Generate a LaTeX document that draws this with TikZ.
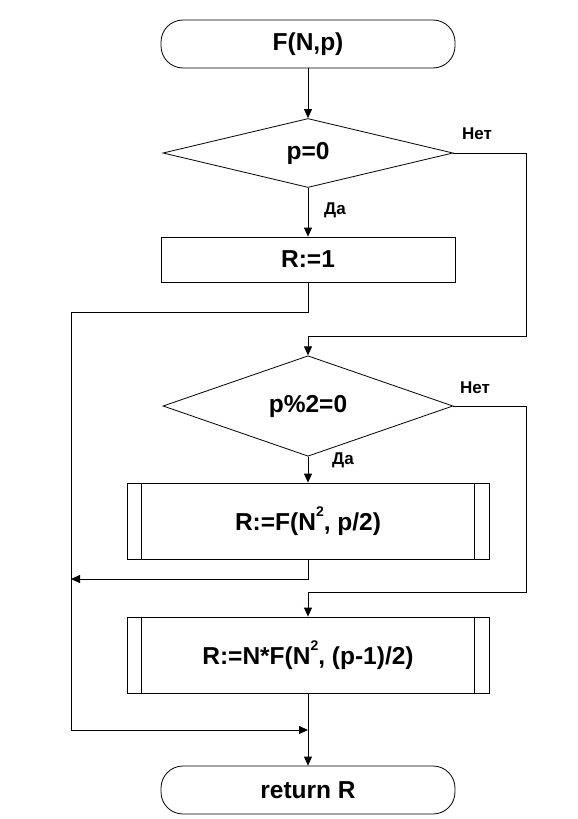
\documentclass[tikz,border=0pt]{standalone}
\usepackage{fontspec}
\setmainfont{Liberation Sans}
\usetikzlibrary{arrows.meta,shapes.geometric}
\newcommand{\supb}{\raisebox{0.55em}{\fontsize{14}{16}\selectfont 2}}
\begin{document}
\begin{tikzpicture}[x=1pt,y=-1pt,
  every node/.style={font=\fontsize{24.5}{28}\selectfont\bfseries},
  box/.style={draw,line width=0.8pt,rectangle,minimum width=294pt,minimum height=45pt,inner sep=0pt},
  term/.style={draw,line width=0.8pt,rectangle,rounded corners=22pt,minimum width=294pt,minimum height=48pt,inner sep=0pt},
  dec/.style={draw,line width=0.8pt,diamond,minimum width=290pt,minimum height=69pt,inner sep=0pt},
  sub/.style={draw,line width=0.8pt,rectangle,minimum width=362pt,minimum height=76pt,inner sep=0pt},
  lab/.style={font=\fontsize{17}{20}\selectfont\bfseries},
  line/.style={line width=0.8pt},
  arr/.style={line width=0.8pt,-{Triangle[length=9pt,width=8pt]}}]
\useasboundingbox (0,0) rectangle (578,819);
\node[term] (start) at (308,44) {F(N,p)};
\node[dec] (d1) at (308,153) {p=0};
\node[box] (b1) at (308,259.5) {R:=1};
\node[dec] (d2) at (308,406) {p\%2=0};
\node[sub] (b2) at (308,521) {R:=F(N\supb, p/2)};
\draw[line] ([xshift=15pt]b2.north west) -- ([xshift=15pt]b2.south west);
\draw[line] ([xshift=-15pt]b2.north east) -- ([xshift=-15pt]b2.south east);
\node[sub] (b3) at (308,655) {R:=N*F(N\supb, (p-1)/2)};
\draw[line] ([xshift=15pt]b3.north west) -- ([xshift=15pt]b3.south west);
\draw[line] ([xshift=-15pt]b3.north east) -- ([xshift=-15pt]b3.south east);
\node[term] (end) at (308,790) {return R};
\coordinate (r1) at (526,336);
\coordinate (r2) at (526,592);
\coordinate (l1) at (71,312);
\coordinate (l2) at (71,579);
\coordinate (m) at (308,730);
\node[lab] (n1) at (477,134) {Нет};
\node[lab] (n2) at (475,388) {Нет};
\node[lab] (y1) at (335,210) {Да};
\node[lab] (y2) at (343,460) {Да};
\draw[arr] (start) -- (d1);
\draw[arr] (d1) -- (b1);
\draw[arr] (d1.east) -| (r1) -| (d2.north);
\draw[arr] (b1.south) |- (l1) |- (m);
\draw[arr] (d2) -- (b2);
\draw[arr] (b2.south) |- (l2);
\draw[arr] (d2.east) -| (r2) -| (b3.north);
\draw[arr] (b3) -- (end);
\end{tikzpicture}
\end{document}
